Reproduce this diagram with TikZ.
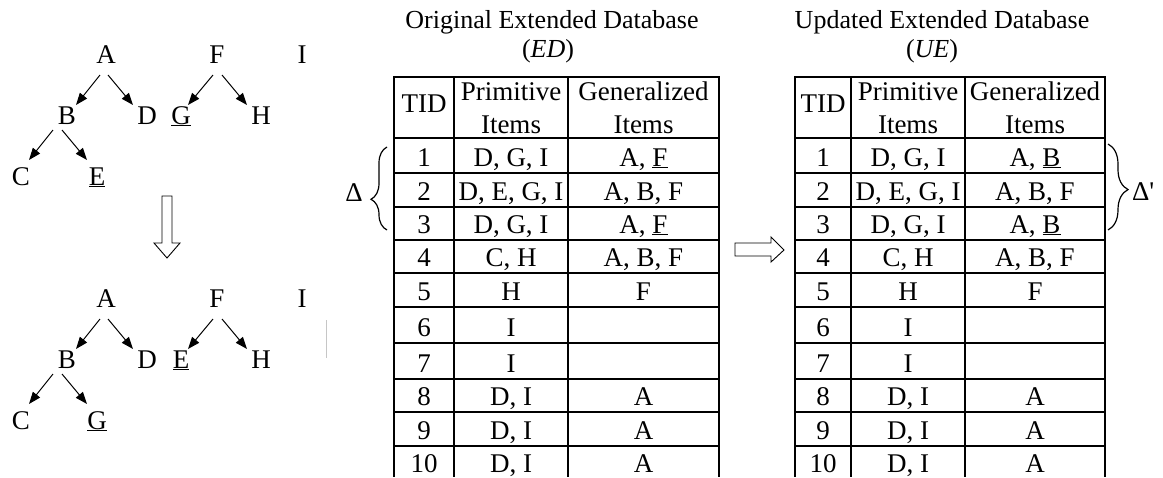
\documentclass[tikz,border=0pt]{standalone}
\usepackage{fontspec}
\setmainfont{Liberation Serif}[Ligatures=TeXOff]
\usetikzlibrary{arrows.meta,calc,decorations.pathreplacing}
\begin{document}
\begin{tikzpicture}[x=1pt,y=-1pt,
  every node/.style={inner sep=0pt,outer sep=0pt},
  lbl/.style={anchor=base,font=\fontsize{27}{32}\selectfont},
  ttl/.style={anchor=base,font=\fontsize{26}{30}\selectfont},
  edge/.style={line width=1pt,-{Triangle[length=12pt,width=9pt]}},
  gridline/.style={line width=2pt},
  hollow/.style={draw,line width=0.9pt,fill=white,line join=miter},
  bracemark/.style={decorate,line width=1.2pt},
]
\useasboundingbox (0,0) rectangle (1163,477);

% ---------- taxonomy trees (before / after) ----------
\foreach \dy/\t/\fl/\br in {0/t/G/E,244/b/E/G}{
  \node[lbl] (\t A) at (106,63+\dy) {A};
  \node[lbl] (\t F) at (217,63+\dy) {F};
  \node[lbl] (\t I) at (302,63+\dy) {I};
  \node[lbl] (\t B) at (67,124+\dy) {B};
  \node[lbl] (\t D) at (147,124+\dy) {D};
  \node[lbl] (\t FL) at (181,124+\dy) {\underline{\fl}};
  \node[lbl] (\t H) at (261,124+\dy) {H};
  \node[lbl] (\t C) at (21,185+\dy) {C};
  \node[lbl] (\t BR) at (97,185+\dy) {\underline{\br}};
  \draw[edge] ($(\t A.base)+(-6,12)$) -- ($(\t B.base)+(9,-19)$);
  \draw[edge] ($(\t A.base)+(2,12)$) -- ($(\t D.base)+(-14,-19)$);
  \draw[edge] ($(\t F.base)+(-4,12)$) -- ($(\t FL.base)+(7,-19)$);
  \draw[edge] ($(\t F.base)+(5,12)$) -- ($(\t H.base)+(-14,-19)$);
  \draw[edge] ($(\t B.base)+(-14,6)$) -- ($(\t C.base)+(8,-25)$);
  \draw[edge] ($(\t B.base)+(-5,6)$) -- ($(\t BR.base)+(-10,-25)$);
}

% hollow arrow between the two trees
\draw[hollow] (162,196) -- (172,196) -- (172,243) -- (180,243) -- (167,258)
  -- (154,243) -- (162,243) -- cycle;
% faint mark beside the lower tree
\draw[gray!45,line width=0.8pt] (326,320) -- (326,358);

% ---------- titles ----------
\node[ttl] (t1a) at (552,28) {Original Extended Database};
\node[ttl] (t1b) at (548,57) {(\textit{ED})};
\node[ttl] (t2a) at (942,28) {Updated Extended Database};
\node[ttl] (t2b) at (932,57) {(\textit{UE})};

% ---------- table rules ----------
\foreach \xa/\xb/\xc/\xd in {394/454/568/719,795/851/965/1105}{
  \foreach \x in {\xa,\xb,\xc,\xd}
    \draw[gridline] (\x,77) -- (\x,477);
  \foreach \y in {77,138,173,207,240,273,307,343,379,412,446}
    \draw[gridline] (\xa-1,\y) -- (\xd+1,\y);
}

% ---------- table headers ----------
\foreach \s/\c/\p/\g in {L/424/511/643.5,R/823/908/1035}{
  \node[lbl] (\s tid) at (\c,112) {TID};
  \node[lbl] (\s pa) at (\p,100) {Primitive};
  \node[lbl] (\s pb) at (\p,133) {Items};
  \node[lbl] (\s ga) at (\g,100) {Generalized};
  \node[lbl] (\s gb) at (\g,133) {Items};
}

% ---------- table bodies ----------
\foreach \n/\yb/\p/\g/\h in {
  1/166/{D, G, I}/{A, \underline{F}}/{A, \underline{B}},
  2/200/{D, E, G, I}/{A, B, F}/{A, B, F},
  3/233/{D, G, I}/{A, \underline{F}}/{A, \underline{B}},
  4/266/{C, H}/{A, B, F}/{A, B, F},
  5/300/{H}/{F}/{F},
  6/336/{I}/{}/{},
  7/372/{I}/{}/{},
  8/405/{D, I}/{A}/{A},
  9/439/{D, I}/{A}/{A},
  10/472/{D, I}/{A}/{A}}{
  \node[lbl] (Lt\n) at (424,\yb) {\n};
  \node[lbl] (Lp\n) at (511,\yb) {\p};
  \node[lbl] (Lg\n) at (643.5,\yb) {\g};
  \node[lbl] (Rt\n) at (823,\yb) {\n};
  \node[lbl] (Rp\n) at (908,\yb) {\p};
  \node[lbl] (Rg\n) at (1035,\yb) {\h};
}

% ---------- braces marking the changed transactions ----------
\draw[bracemark,decoration={brace,amplitude=16pt,aspect=0.37}] (387,230) -- (387,147);
\node[lbl] (delta) at (354,201) {Δ};
\draw[bracemark,decoration={brace,amplitude=20pt,aspect=0.53}] (1108,144) -- (1108,230);
\node[lbl,anchor=base west] (deltap) at (1132,200) {Δ'};

% hollow arrow between the two tables
\draw[hollow] (735,243) -- (771,243) -- (771,237) -- (784,250) -- (771,262)
  -- (771,256) -- (735,256) -- cycle;
\end{tikzpicture}
\end{document}
